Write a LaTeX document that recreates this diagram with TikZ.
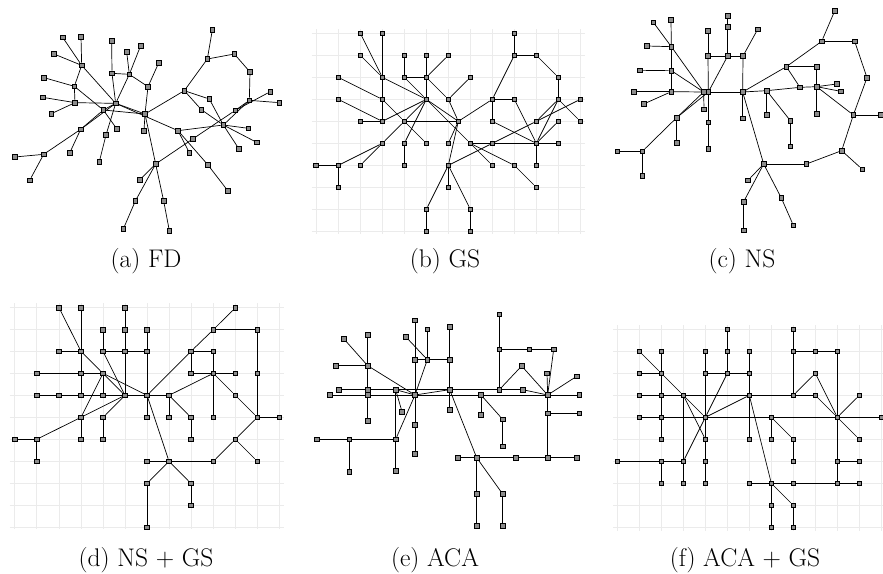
\documentclass[tikz,border=0pt]{standalone}
\pgfdeclarelayer{bg}
\pgfsetlayers{bg,main}
\tikzset{
 vx/.style={rectangle, draw=black, fill=black!45, line width=0.6pt, minimum size=4.6pt, inner sep=0pt},
 ed/.style={line width=0.7pt, black},
 gline/.style={black!8, line width=0.6pt},
 captxt/.style={font=\fontsize{25.5}{30}\selectfont, anchor=base},
 panel/.style={x=0.333333pt, y=-0.333333pt}
}
\begin{document}
\begin{tikzpicture}[x=1pt,y=-1pt]
\begin{pgfonlayer}{bg}
\fill[white] (0,0) rectangle (883,573);
\end{pgfonlayer}
\useasboundingbox (0,0) rectangle (883,573);

% ---------------- (a) FD
\begin{scope}[shift={(0pt,0pt)}, panel]
\foreach \x/\y in {188/112, 243/110, 335/123, 380/155, 422/137, 162/162, 245/196, 336/220, 388/223, 476/189, 637/90, 622/177, 703/162, 750/216, 132/233, 223/259, 444/260, 553/272, 128/292, 225/308, 347/310, 310/330, 628/297, 748/301, 811/275, 838/308, 154/341, 435/342, 604/329, 706/331, 670/375, 745/385, 242/388, 350/386, 432/393, 534/392, 318/405, 578/417, 770/427, 717/447, 209/459, 131/463, 568/458, 44/471, 298/485, 467/492, 624/495, 419/540, 89/541, 684/573, 406/603, 491/603, 370/687, 508/692}
  \node[vx] (a\x-\y) at (\x,\y) {};
\begin{pgfonlayer}{bg}
\foreach \p/\q in {188-112/245-196, 243-110/245-196, 162-162/245-196, 245-196/223-259, 245-196/347-310, 132-233/223-259, 223-259/225-308, 128-292/225-308, 154-341/225-308, 225-308/347-310, 223-259/310-330, 310-330/350-386, 335-123/336-220, 336-220/388-223, 380-155/388-223, 422-137/388-223, 388-223/444-260, 388-223/347-310, 336-220/347-310, 476-189/444-260, 444-260/435-342, 347-310/435-342, 310-330/435-342, 347-310/534-392, 435-342/432-393, 435-342/467-492, 467-492/419-540, 467-492/406-603, 406-603/370-687, 467-492/491-603, 491-603/508-692, 347-310/310-330, 310-330/242-388, 347-310/242-388, 242-388/131-463, 242-388/209-459, 131-463/44-471, 131-463/89-541, 347-310/318-405, 318-405/298-485, 637-90/622-177, 622-177/703-162, 703-162/750-216, 750-216/748-301, 622-177/553-272, 553-272/628-297, 553-272/604-329, 604-329/670-375, 628-297/670-375, 553-272/435-342, 748-301/838-308, 748-301/706-331, 748-301/670-375, 811-275/706-331, 706-331/578-417, 578-417/467-492, 670-375/745-385, 670-375/770-427, 670-375/717-447, 534-392/670-375, 534-392/568-458, 534-392/624-495, 624-495/684-573}
  \draw[ed] (a\p) -- (a\q);
\end{pgfonlayer}
\end{scope}

% ---------------- (b) GS
\begin{scope}[shift={(295pt,0pt)}, panel]
\foreach \x/\y in {196/100, 262/100, 658/100, 196/166, 328/166, 394/166, 460/166, 658/166, 724/166, 130/232, 262/232, 328/232, 394/232, 526/232, 790/232, 130/298, 262/298, 394/298, 460/298, 592/298, 658/298, 790/298, 856/298, 196/364, 262/364, 328/364, 490/364, 592/364, 724/364, 790/364, 856/364, 262/430, 328/430, 394/430, 460/430, 526/430, 592/430, 724/430, 790/430, 63/496, 130/496, 196/496, 328/496, 460/496, 592/496, 658/496, 724/496, 130/562, 460/562, 724/562, 394/628, 526/628, 394/694, 526/694}
  \node[vx] (b\x-\y) at (\x,\y) {};
\begin{pgfonlayer}{bg}
\foreach \g in {63,130,196,262,328,394,460,526,592,658,724,790,856}
  \draw[gline] (\g,88) -- (\g,702);
\foreach \g in {100,166,232,298,364,430,496,562,628,694}
  \draw[gline] (50,\g) -- (870,\g);
\foreach \p/\q in {196-100/262-232, 262-100/262-232, 196-166/262-232, 262-232/262-298, 262-298/262-364, 262-232/394-298, 130-232/262-298, 130-298/262-364, 196-364/262-364, 262-364/394-298, 262-298/328-364, 328-364/394-430, 328-166/328-232, 328-232/394-232, 394-166/394-232, 460-166/394-232, 394-232/394-298, 394-232/460-298, 526-232/460-298, 460-298/490-364, 328-232/394-298, 328-364/490-364, 328-364/394-298, 262-430/328-364, 328-430/394-298, 328-430/328-496, 262-430/130-496, 262-430/196-496, 130-496/63-496, 130-496/130-562, 394-298/490-364, 394-298/526-430, 490-364/460-430, 490-364/460-496, 460-496/460-562, 460-496/394-628, 460-496/526-628, 394-628/394-694, 526-628/526-694, 490-364/592-298, 592-298/658-298, 592-298/592-364, 592-298/658-166, 658-100/658-166, 658-166/724-166, 724-166/790-232, 790-232/790-298, 658-298/724-430, 592-364/724-430, 790-298/724-430, 790-298/856-364, 790-298/724-364, 856-298/724-364, 724-364/592-430, 592-430/460-496, 790-364/724-430, 724-430/790-430, 724-430/724-496, 526-430/592-430, 592-430/724-430, 526-430/592-496, 526-430/658-496, 658-496/724-562}
  \draw[ed] (b\p) -- (b\q);
\end{pgfonlayer}
\end{scope}

% ---------------- (c) NS
\begin{scope}[shift={(590pt,0pt)}, panel]
\foreach \x/\y in {190/67, 243/60, 413/47, 413/80, 734/33, 354/93, 503/88, 171/138, 244/140, 354/168, 413/168, 459/168, 695/124, 794/124, 150/211, 244/212, 589/200, 680/200, 831/233, 740/252, 132/275, 244/275, 341/276, 355/276, 458/276, 530/272, 630/262, 680/260, 752/274, 161/312, 342/328, 790/345, 872/345, 260/353, 355/367, 530/345, 458/355, 601/362, 680/342, 260/428, 601/439, 82/454, 157/454, 355/447, 755/452, 521/492, 649/492, 817/508, 157/528, 474/541, 461/605, 574/594, 461/691, 610/676}
  \node[vx] (c\x-\y) at (\x,\y) {};
\begin{pgfonlayer}{bg}
\foreach \p/\q in {190-67/244-140, 243-60/244-140, 171-138/244-140, 244-140/244-212, 244-212/244-275, 244-140/341-276, 150-211/244-212, 244-212/341-276, 132-275/244-275, 244-275/341-276, 161-312/244-275, 341-276/355-276, 354-93/354-168, 354-168/355-276, 354-168/413-168, 413-168/459-168, 413-47/413-80, 413-80/413-168, 413-168/355-276, 459-168/458-276, 503-88/459-168, 355-276/458-276, 458-276/530-272, 530-272/630-262, 630-262/680-260, 680-260/740-252, 680-260/752-274, 458-276/589-200, 589-200/680-200, 589-200/630-262, 680-200/680-260, 680-260/680-342, 680-260/790-345, 589-200/695-124, 695-124/734-33, 695-124/794-124, 794-124/831-233, 831-233/790-345, 790-345/872-345, 790-345/755-452, 755-452/817-508, 755-452/649-492, 649-492/521-492, 458-276/521-492, 458-276/458-355, 530-272/530-345, 530-272/601-362, 601-362/601-439, 521-492/474-541, 521-492/461-605, 461-605/461-691, 521-492/574-594, 574-594/610-676, 341-276/342-328, 355-276/355-367, 355-367/355-447, 341-276/260-353, 355-276/260-353, 260-353/157-454, 260-353/260-428, 157-454/82-454, 157-454/157-528}
  \draw[ed] (c\p) -- (c\q);
\end{pgfonlayer}
\end{scope}

% ---------------- (d) NS + GS
\begin{scope}[shift={(0pt,-280pt)}, panel]
\foreach \x/\y in {177/83, 243/83, 375/83, 706/83, 309/149, 375/149, 441/149, 640/149, 772/149, 177/214, 243/214, 309/214, 375/214, 441/214, 573/214, 640/214, 110/280, 243/280, 309/280, 573/280, 640/280, 706/280, 772/280, 110/346, 177/346, 243/346, 309/346, 375/346, 441/346, 507/346, 706/346, 243/412, 309/412, 441/412, 507/412, 573/412, 640/412, 772/412, 838/412, 44/478, 110/478, 243/478, 309/478, 573/478, 706/478, 110/544, 441/544, 507/544, 640/544, 772/544, 441/610, 573/610, 573/676, 441/742}
  \node[vx] (d\x-\y) at (\x,\y) {};
\begin{pgfonlayer}{bg}
\foreach \g in {44,110,177,243,309,375,441,507,573,640,706,772,838}
  \draw[gline] (\g,70) -- (\g,748);
\foreach \g in {83,149,214,280,346,412,478,544,610,676,742}
  \draw[gline] (30,\g) -- (852,\g);
\foreach \p/\q in {177-83/243-214, 243-83/243-214, 243-214/243-280, 243-280/243-346, 375-83/375-149, 375-149/375-214, 375-214/375-346, 309-149/309-214, 309-214/375-214, 375-214/441-214, 441-149/441-214, 441-214/441-346, 177-214/243-214, 243-214/309-280, 110-280/243-280, 243-280/309-280, 309-214/375-346, 309-280/375-346, 309-280/441-346, 309-280/309-346, 309-280/243-412, 110-478/243-412, 243-412/375-346, 110-346/177-346, 177-346/243-346, 243-346/309-346, 309-346/375-346, 375-346/441-346, 441-346/507-346, 375-346/309-412, 441-346/441-412, 441-346/507-544, 441-346/573-214, 243-412/243-478, 309-412/309-478, 44-478/110-478, 110-478/110-544, 507-346/507-412, 507-346/573-412, 573-412/573-478, 507-346/640-280, 573-214/640-214, 573-214/573-280, 573-280/640-280, 573-214/640-149, 640-149/706-83, 640-149/772-149, 772-149/772-280, 772-280/772-412, 640-214/640-280, 640-280/640-412, 640-280/706-280, 640-280/706-346, 706-346/772-412, 772-412/838-412, 772-412/706-478, 706-478/640-544, 706-478/772-544, 640-544/507-544, 507-544/441-544, 507-544/441-610, 441-610/441-742, 507-544/573-610, 573-610/573-676}
  \draw[ed] (d\p) -- (d\q);
\end{pgfonlayer}
\end{scope}

% ---------------- (e) ACA
\begin{scope}[shift={(295pt,-280pt)}, panel]
\foreach \x/\y in {613/103, 360/121, 397/148, 464/141, 147/177, 218/165, 332/170, 613/208, 703/208, 776/208, 360/239, 397/239, 464/239, 680/258, 123/257, 218/257, 756/280, 845/289, 131/329, 218/329, 302/329, 464/329, 613/329, 683/329, 105/345, 218/345, 360/345, 558/345, 758/345, 853/345, 321/395, 464/390, 218/422, 360/435, 558/405, 623/418, 758/400, 853/400, 66/478, 163/478, 302/478, 623/499, 360/522, 488/533, 545/533, 662/533, 758/533, 845/533, 163/575, 302/572, 545/642, 623/642, 545/737, 623/737}
  \node[vx] (e\x-\y) at (\x,\y) {};
\begin{pgfonlayer}{bg}
\foreach \p/\q in {147-177/218-257, 218-165/218-257, 218-257/218-329, 218-329/218-345, 218-345/218-422, 123-257/218-257, 218-257/360-345, 131-329/218-329, 218-329/302-329, 302-329/464-329, 464-329/613-329, 613-329/683-329, 302-329/360-345, 302-329/321-395, 302-329/302-478, 360-121/360-239, 360-239/360-345, 360-345/360-435, 360-435/360-522, 332-170/397-239, 397-148/397-239, 360-239/397-239, 397-239/464-239, 464-141/464-239, 464-239/464-329, 397-239/360-345, 360-345/464-329, 360-345/302-478, 464-329/464-390, 464-329/545-533, 105-345/218-345, 218-345/360-345, 360-345/558-345, 558-345/758-345, 758-345/853-345, 613-103/613-208, 613-208/613-329, 613-208/703-208, 703-208/776-208, 776-208/758-345, 613-329/680-258, 680-258/758-345, 683-329/758-345, 756-280/758-345, 845-289/758-345, 758-345/758-400, 758-400/758-533, 758-400/853-400, 558-345/558-405, 558-345/623-418, 623-418/623-499, 66-478/163-478, 163-478/302-478, 163-478/163-575, 302-478/302-572, 488-533/545-533, 545-533/662-533, 662-533/758-533, 758-533/845-533, 545-533/545-642, 545-642/545-737, 545-533/623-642, 623-642/623-737}
  \draw[ed] (e\p) -- (e\q);
\end{pgfonlayer}
\end{scope}

% ---------------- (f) ACA + GS
\begin{scope}[shift={(590pt,-280pt)}, panel]
\foreach \x/\y in {412/148, 610/148, 148/214, 214/214, 346/214, 412/214, 478/214, 610/214, 676/214, 742/214, 148/280, 214/280, 346/280, 412/280, 478/280, 676/280, 148/346, 214/346, 280/346, 478/346, 610/346, 676/346, 808/346, 148/412, 214/412, 346/412, 544/412, 742/412, 874/412, 214/478, 346/478, 478/478, 544/478, 610/478, 808/478, 82/544, 214/544, 280/544, 346/544, 610/544, 742/544, 808/544, 214/610, 280/610, 346/610, 478/610, 544/610, 610/610, 742/610, 808/610, 544/676, 610/676, 544/742, 610/742}
  \node[vx] (f\x-\y) at (\x,\y) {};
\begin{pgfonlayer}{bg}
\foreach \g in {82,148,214,280,346,412,478,544,610,676,742,808,874}
  \draw[gline] (\g,135) -- (\g,752);
\foreach \g in {148,214,280,346,412,478,544,610,676,742}
  \draw[gline] (70,\g) -- (883,\g);
\foreach \p/\q in {148-214/214-280, 214-280/280-346, 214-214/214-280, 148-280/214-280, 214-280/214-346, 148-346/214-346, 214-346/280-346, 214-346/214-412, 148-412/214-412, 214-412/346-412, 346-412/544-412, 544-412/742-412, 742-412/874-412, 214-412/214-478, 280-346/478-346, 478-346/610-346, 610-346/676-346, 280-346/346-412, 280-346/346-478, 280-346/280-544, 280-544/280-610, 214-544/280-544, 82-544/214-544, 214-544/214-610, 346-412/280-544, 346-412/412-280, 346-412/478-346, 346-214/346-280, 346-280/346-412, 346-412/346-478, 346-478/346-544, 346-544/346-610, 346-280/412-280, 412-280/478-280, 412-148/412-214, 412-214/412-280, 478-214/478-280, 478-280/478-346, 478-346/478-478, 478-346/544-610, 544-412/544-478, 544-412/610-478, 610-478/610-544, 610-148/610-214, 610-214/610-346, 610-214/676-214, 676-214/742-214, 742-214/742-412, 610-346/676-280, 676-280/742-412, 676-346/742-412, 742-412/808-346, 742-412/808-478, 742-412/742-544, 742-544/808-544, 742-544/742-610, 478-610/544-610, 544-610/610-610, 610-610/742-610, 742-610/808-610, 544-610/544-676, 544-676/544-742, 544-610/610-676, 610-676/610-742}
  \draw[ed] (f\p) -- (f\q);
\end{pgfonlayer}
\end{scope}

% ---------------- captions
\node[captxt] (capa) at (146,267) {(a) FD};
\node[captxt] (capb) at (445,267) {(b) GS};
\node[captxt] (capc) at (742,267) {(c) NS};
\node[captxt] (capd) at (146,566) {(d) NS + GS};
\node[captxt] (cape) at (435,566) {(e) ACA};
\node[captxt] (capf) at (745,566) {(f) ACA + GS};
\end{tikzpicture}
\end{document}
